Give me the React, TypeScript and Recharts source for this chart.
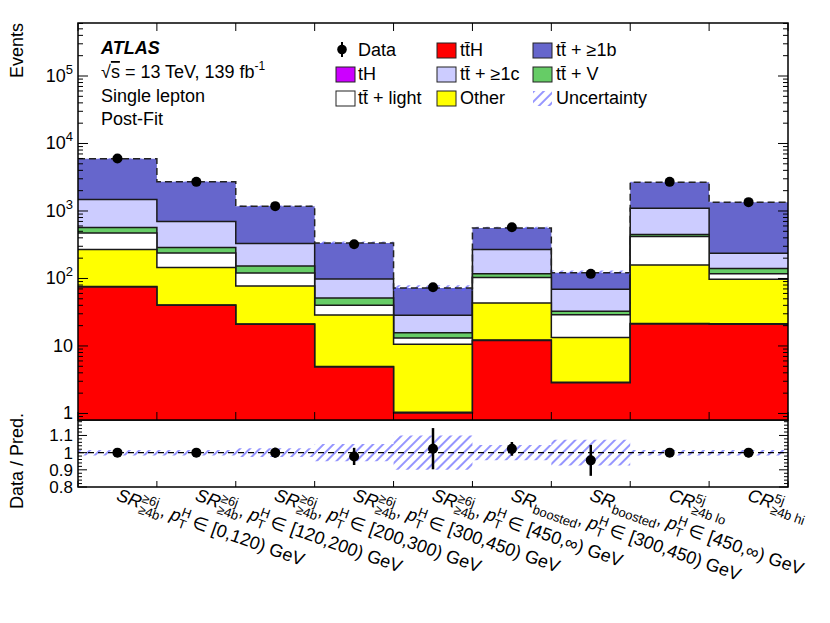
import React from "react";
import {
  ComposedChart,
  Area,
  Line,
  Scatter,
  XAxis,
  YAxis,
  ReferenceArea,
  ReferenceLine,
  ErrorBar,
} from "recharts";

const FONT = "'Liberation Sans', Arial, Helvetica, sans-serif";

// post-fit yields per region, stack order bottom -> top
const ttH = [75, 40, 20.9, 4.86, 1.02, 12.1, 2.85, 21.1, 21];
const tH = [1, 0.6, 0.3, 0.1, 0.02, 0.2, 0.05, 0.4, 0.3];
const other = [192, 104.4, 56.2, 23.7, 9.56, 31, 10.4, 137.5, 75.7];
const ttLight = [205, 94, 43.6, 11.3, 2.5, 59.7, 15.8, 259, 21];
const ttV = [96, 48, 32, 11.4, 2.6, 15, 3.5, 29, 22];
const ttC = [911, 411, 177, 46.6, 12.7, 150, 36.4, 653, 97];
const ttB = [4450, 2002, 848, 238, 44, 293, 53, 1575, 1115];

const dataYield = [6000, 2700, 1180, 322, 74, 575, 117, 2700, 1352];
const ratio = [1.0, 1.0, 1.0, 0.978, 1.023, 1.022, 0.955, 1.0, 1.0];
const ratioErr = [0.013, 0.019, 0.029, 0.05, 0.12, 0.04, 0.09, 0.019, 0.027];
const relUnc = [0.016, 0.016, 0.025, 0.05, 0.1, 0.045, 0.075, 0.016, 0.016];

const binLabels = [
  { main: "SR", sup: "≥6j", sub: "≥4b", range: "[0,120)" },
  { main: "SR", sup: "≥6j", sub: "≥4b", range: "[120,200)" },
  { main: "SR", sup: "≥6j", sub: "≥4b", range: "[200,300)" },
  { main: "SR", sup: "≥6j", sub: "≥4b", range: "[300,450)" },
  { main: "SR", sup: "≥6j", sub: "≥4b", range: "[450,∞)" },
  { main: "SR", sup: "", sub: "boosted", range: "[300,450)" },
  { main: "SR", sup: "", sub: "boosted", range: "[450,∞)" },
  { main: "CR", sup: "5j", sub: "≥4b lo", range: "" },
  { main: "CR", sup: "5j", sub: "≥4b hi", range: "" },
];

const mainMajor = [1, 10, 100, 1000, 10000, 100000];
const ratioMajor = [0.8, 0.9, 1, 1.1];

const layers = [ttH, tH, other, ttLight, ttV, ttC, ttB];
const colors = ["#ff0000", "#cc00ff", "#ffff00", "#ffffff", "#66cc66", "#ccccff", "#6666cc"];

const TT = "tt\u0304";
const legendCols = [
  [
    { name: "Data", kind: "data", color: "#000" },
    { name: "tH", kind: "box", color: colors[1] },
    { name: TT + " + light", kind: "box", color: colors[3] },
  ],
  [
    { name: TT + "H", kind: "box", color: colors[0] },
    { name: TT + " + ≥1c", kind: "box", color: colors[5] },
    { name: "Other", kind: "box", color: colors[2] },
  ],
  [
    { name: TT + " + ≥1b", kind: "box", color: colors[6] },
    { name: TT + " + V", kind: "box", color: colors[4] },
    { name: "Uncertainty", kind: "hatch", color: "#6e6eff" },
  ],
];

const Y_MIN = 0.8;
const Y_MAX = 6.1e5;
const R_MIN = 0.8;
const R_MAX = 1.19;

// frame in page coordinates
const PL = 78;
const PR = 788;
const PT = 23;

const mainRows = Array.from({ length: 10 }, (_, i) => {
  const b = Math.min(i, 8);
  const row: any = { x: i };
  let sum = 0;
  layers.forEach((arr, k) => {
    sum += arr[b];
    row["c" + k] = sum;
  });
  row.band = [sum * (1 - relUnc[b]), sum * (1 + relUnc[b])];
  return row;
});

const ratioRows = Array.from({ length: 10 }, (_, i) => {
  const b = Math.min(i, 8);
  return { x: i, band: [1 - relUnc[b], 1 + relUnc[b]] };
});

const dataPoints = dataYield.map((v, i) => ({ x: i + 0.5, y: v }));
const ratioPoints = ratio.map((v, i) => ({ x: i + 0.5, r: v, err: ratioErr[i] }));

const mainTicks: number[] = [0.9];
mainMajor.forEach((d) => {
  for (let m = 1; m <= 9; m++) if (d * m <= Y_MAX) mainTicks.push(d * m);
});
const ratioTicks: number[] = [];
for (let v = 80; v <= 118; v += 2) ratioTicks.push(v / 100);
const xEdges = Array.from({ length: 10 }, (_, i) => i);
const xTicks = Array.from({ length: 19 }, (_, i) => i / 2);

function MainYTick(props: any) {
  const { y, payload } = props;
  const v = payload.value;
  const major = mainMajor.includes(v);
  const len = major ? 10 : 5;
  const exp = Math.round(Math.log10(v));
  return (
    <g>
      <line x1={PL} x2={PL + len} y1={y} y2={y} stroke="#000" />
      <line x1={PR - len} x2={PR} y1={y} y2={y} stroke="#000" />
      {major && (
        <text x={73} y={y + 6} textAnchor="end" fontSize={18} fill="#000">
          {exp === 0 ? "1" : "10"}
          {exp > 1 && (
            <tspan fontSize={13} dy={-8}>
              {exp}
            </tspan>
          )}
        </text>
      )}
    </g>
  );
}

function MainXTick(props: any) {
  const { x } = props;
  const yb = 420;
  return (
    <g>
      <line x1={x} x2={x} y1={yb} y2={yb - 8} stroke="#000" />
      <line x1={x} x2={x} y1={PT} y2={PT + 8} stroke="#000" />
    </g>
  );
}

function RatioYTick(props: any) {
  const { y, payload } = props;
  const v = payload.value;
  const major = Math.abs(v * 10 - Math.round(v * 10)) < 1e-6;
  const len = major ? 9 : 4;
  return (
    <g>
      <line x1={PL} x2={PL + len} y1={y} y2={y} stroke="#000" />
      <line x1={PR - len} x2={PR} y1={y} y2={y} stroke="#000" />
      {major && ratioMajor.some((m) => Math.abs(m - v) < 1e-6) && (
        <text x={73} y={y + 6} textAnchor="end" fontSize={17} fill="#000">
          {Math.abs(v - 1) < 1e-6 ? "1" : v.toFixed(1)}
        </text>
      )}
    </g>
  );
}

const SUP_W: Record<string, number> = { "≥6j": 17.2, "5j": 10.1 };

function RatioXTick(props: any) {
  const { x, y, payload } = props;
  const v = payload.value;
  if (Number.isInteger(v)) {
    return <line x1={x} x2={x} y1={y} y2={y - 6} stroke="#000" />;
  }
  const lab = binLabels[Math.floor(v)];
  return (
    <g transform={`translate(${x - 2},${y + 13}) rotate(19.5)`}>
      <text x={0} y={0} fontSize={18} fill="#000">
        <tspan fontStyle="italic">{lab.main}</tspan>
        {lab.sup && (
          <tspan fontSize={13} dy={-7}>
            {lab.sup}
          </tspan>
        )}
        <tspan fontSize={13} dx={lab.sup ? -SUP_W[lab.sup] : 0} dy={lab.sup ? 12 : 5}>
          {lab.sub}
        </tspan>
        {lab.range && (
          <>
            <tspan dy={-5}>, </tspan>
            <tspan fontStyle="italic">p</tspan>
            <tspan fontSize={13} dy={-7}>
              H
            </tspan>
            <tspan fontSize={13} dx={-9.4} dy={12}>
              T
            </tspan>
            <tspan dy={-5}>{" ∈ " + lab.range + " GeV"}</tspan>
          </>
        )}
      </text>
    </g>
  );
}

function Legend() {
  const boxX = [336, 437, 533];
  const textX = [358, 460, 556];
  const rowY = [56, 80, 104];
  return (
    <g fontSize={18} fill="#000">
      {legendCols.map((col, c) =>
        col.map((it, r) => {
          const y = rowY[r];
          return (
            <g key={c + "-" + r}>
              {it.kind === "data" && (
                <g>
                  <line x1={boxX[c] + 6} x2={boxX[c] + 6} y1={y - 14} y2={y + 1} stroke="#000" strokeWidth={2} />
                  <circle cx={boxX[c] + 6} cy={y - 6.5} r={4.8} fill="#000" />
                </g>
              )}
              {it.kind === "box" && (
                <rect x={boxX[c]} y={y - 13} width={19} height={15} fill={it.color} stroke="#222" strokeWidth={1} />
              )}
              {it.kind === "hatch" && (
                <rect x={boxX[c]} y={y - 13} width={19} height={15} fill="url(#hatch)" />
              )}
              <text x={textX[c]} y={y}>
                {it.name}
              </text>
            </g>
          );
        })
      )}
    </g>
  );
}

export default function App() {
  return (
    <div
      style={{
        position: "absolute",
        left: 0,
        top: 0,
        width: 830,
        height: 623,
        background: "#fff",
        fontFamily: FONT,
      }}
    >
      <svg width={0} height={0} style={{ position: "absolute" }}>
        <defs>
          <pattern id="hatch" patternUnits="userSpaceOnUse" width={7} height={7} patternTransform="rotate(45)">
            <line x1={1} y1={0} x2={1} y2={7} stroke="#5c5cff" strokeWidth={1.3} />
          </pattern>
        </defs>
      </svg>

      <div style={{ position: "absolute", left: 0, top: 0 }}>
        <ComposedChart width={830} height={432} data={mainRows} margin={{ top: PT, right: 830 - PR, bottom: 0, left: 0 }}>
          <XAxis
            dataKey="x"
            type="number"
            domain={[0, 9]}
            ticks={xEdges}
            interval={0}
            height={12}
            tickSize={0}
            tickMargin={0}
            axisLine={false}
            tickLine={false}
            tick={(p: any) => <MainXTick {...p} />}
            allowDataOverflow
          />
          <YAxis
            type="number"
            scale="log"
            domain={[Y_MIN, Y_MAX]}
            ticks={mainTicks}
            interval={0}
            width={PL}
            axisLine={false}
            tickLine={false}
            tick={(p: any) => <MainYTick {...p} />}
            allowDataOverflow
          />
          {[6, 5, 4, 3, 2, 1, 0].map((k) => (
            <Area
              key={k}
              type="stepAfter"
              dataKey={"c" + k}
              baseValue={Y_MIN}
              fill={colors[k]}
              fillOpacity={1}
              stroke={k === 6 ? "none" : "#1a1a1a"}
              strokeWidth={1.5}
              isAnimationActive={false}
            />
          ))}
          <Area
            type="stepAfter"
            dataKey="band"
            fill="url(#hatch)"
            fillOpacity={1}
            stroke="none"
            isAnimationActive={false}
          />
          <Line
            type="stepAfter"
            dataKey="c6"
            stroke="#222"
            strokeWidth={1.5}
            strokeDasharray="7 4"
            dot={false}
            isAnimationActive={false}
          />
          <Scatter
            data={dataPoints}
            dataKey="y"
            isAnimationActive={false}
            shape={(p: any) => <circle cx={p.cx} cy={p.cy} r={5} fill="#000" />}
          />
          <ReferenceArea x1={0} x2={9} y1={Y_MIN} y2={Y_MAX} fill="none" stroke="#000" strokeWidth={1.5} ifOverflow="visible" />
        </ComposedChart>
      </div>

      <div style={{ position: "absolute", left: 0, top: 420 }}>
        <ComposedChart width={830} height={203} data={ratioRows} margin={{ top: 0, right: 830 - PR, bottom: 0, left: 0 }}>
          <XAxis
            dataKey="x"
            type="number"
            domain={[0, 9]}
            ticks={xTicks}
            interval={0}
            height={136}
            tickSize={0}
            tickMargin={0}
            axisLine={false}
            tickLine={false}
            tick={(p: any) => <RatioXTick {...p} />}
            allowDataOverflow
          />
          <YAxis
            type="number"
            domain={[R_MIN, R_MAX]}
            ticks={ratioTicks}
            interval={0}
            width={PL}
            axisLine={false}
            tickLine={false}
            tick={(p: any) => <RatioYTick {...p} />}
            allowDataOverflow
          />
          <Area
            type="stepAfter"
            dataKey="band"
            fill="url(#hatch)"
            fillOpacity={1}
            stroke="none"
            isAnimationActive={false}
          />
          <ReferenceLine y={1} stroke="#000" strokeWidth={1.2} strokeDasharray="6 4" />
          <Scatter
            data={ratioPoints}
            dataKey="r"
            isAnimationActive={false}
            shape={(p: any) => <circle cx={p.cx} cy={p.cy} r={5} fill="#000" />}
          >
            <ErrorBar dataKey="err" direction="y" width={0} stroke="#000" strokeWidth={2.5} />
          </Scatter>
          <ReferenceArea x1={0} x2={9} y1={R_MIN} y2={R_MAX} fill="none" stroke="#000" strokeWidth={1.5} ifOverflow="visible" />
        </ComposedChart>
      </div>

      <svg width={830} height={623} style={{ position: "absolute", left: 0, top: 0, pointerEvents: "none" }}>
        <text x={23} y={PT} transform={`rotate(-90 23 ${PT})`} textAnchor="end" fontSize={18} fill="#000">
          Events
        </text>
        <text x={23} y={413} transform="rotate(-90 23 413)" textAnchor="end" fontSize={18} fill="#000">
          Data / Pred.
        </text>
        <text x={101} y={54} fontSize={18} fontWeight="bold" fontStyle="italic" fill="#000">
          ATLAS
        </text>
        <text x={101} y={78} fontSize={18} fill="#000">
          √<tspan textDecoration="overline">s</tspan> = 13 TeV, 139 fb
          <tspan fontSize={12} dy={-8}>
            -1
          </tspan>
        </text>
        <text x={101} y={102} fontSize={18} fill="#000">
          Single lepton
        </text>
        <text x={101} y={125} fontSize={18} fill="#000">
          Post-Fit
        </text>
        <Legend />
      </svg>
    </div>
  );
}
